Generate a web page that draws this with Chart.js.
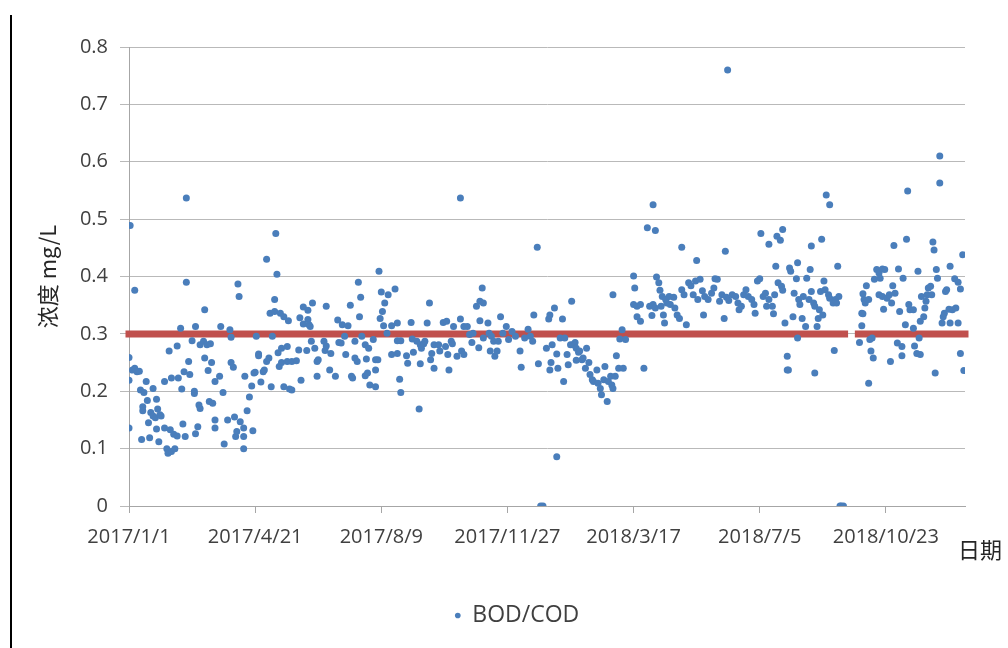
<!DOCTYPE html>
<html>
<head>
<meta charset="utf-8">
<script src="https://cdn.jsdelivr.net/npm/chart.js@4.4.1/dist/chart.umd.min.js"></script>
<style>
  body { margin: 0; background: #fff; }
  #wrap { width: 1008px; height: 648px; position: relative; }
</style>
</head>
<body>
<div id="wrap"><canvas id="myChart"></canvas></div>
<script>
// Eje X: días desde 2017/1/1
const startDate = '2017/1/1';
const endDate = '2018/12/31';
const xTickLabels = ['2017/1/1', '2017/4/21', '2017/8/9', '2017/11/27', '2018/3/17', '2018/7/5', '2018/10/23'];
const yTickValues = [0, 0.1, 0.2, 0.3, 0.4, 0.5, 0.6, 0.7, 0.8];

// BOD/COD: [día, valor]
const bodCod = [
  [0, 0.259], [0, 0.219], [0, 0.136], [1, 0.489], [3, 0.237], [5, 0.24], [5, 0.376], [7, 0.234], [9, 0.235],
  [10, 0.202], [11, 0.116], [12, 0.173], [12, 0.166], [13, 0.198], [15, 0.217], [16, 0.184], [17, 0.145],
  [18, 0.119], [19, 0.163], [21, 0.157], [21, 0.205], [23, 0.154], [24, 0.186], [24, 0.134], [25, 0.169],
  [26, 0.112], [27, 0.159], [28, 0.157], [31, 0.136], [31, 0.217], [33, 0.1], [34, 0.092], [35, 0.27],
  [36, 0.133], [37, 0.095], [37, 0.223], [39, 0.125], [40, 0.1], [42, 0.122], [42, 0.279], [43, 0.223],
  [45, 0.31], [46, 0.204], [47, 0.143], [48, 0.234], [49, 0.121], [50, 0.537], [50, 0.39], [52, 0.252],
  [53, 0.229], [55, 0.288], [57, 0.2], [57, 0.196], [58, 0.126], [58, 0.313], [60, 0.138], [61, 0.176],
  [62, 0.17], [62, 0.281], [65, 0.287], [66, 0.342], [66, 0.258], [68, 0.281], [69, 0.236], [70, 0.182],
  [71, 0.283], [72, 0.25], [73, 0.179], [75, 0.15], [75, 0.136], [75, 0.217], [79, 0.226], [80, 0.313],
  [82, 0.198], [83, 0.108],
  [86, 0.15], [88, 0.307], [89, 0.294], [89, 0.25], [91, 0.242], [92, 0.155], [93, 0.121], [94, 0.13],
  [95, 0.387], [96, 0.365], [97, 0.147], [100, 0.136], [100, 0.1], [100, 0.121], [101, 0.226], [103, 0.166],
  [105, 0.19], [107, 0.209], [108, 0.131], [109, 0.232], [110, 0.233], [111, 0.296], [113, 0.265], [113, 0.262],
  [115, 0.216], [117, 0.234], [118, 0.237], [120, 0.252], [120, 0.43], [122, 0.258], [123, 0.336], [124, 0.208],
  [125, 0.296], [127, 0.36], [127, 0.339], [128, 0.475], [129, 0.404], [130, 0.267], [131, 0.243], [132, 0.336],
  [133, 0.275], [133, 0.25], [135, 0.33], [135, 0.208], [138, 0.278], [138, 0.252], [139, 0.323], [140, 0.204],
  [142, 0.252], [142, 0.202], [146, 0.253], [148, 0.272], [149, 0.328], [150, 0.219], [152, 0.347], [152, 0.317],
  [155, 0.271], [156, 0.341], [156, 0.325], [157, 0.316], [158, 0.313], [159, 0.287], [160, 0.354], [162, 0.275],
  [164, 0.252], [164, 0.226], [165, 0.255], [170, 0.287], [171, 0.271], [172, 0.279], [172, 0.348], [175, 0.237],
  [176, 0.266], [180, 0.226], [182, 0.324], [183, 0.285], [185, 0.284], [186, 0.316], [188, 0.296], [189, 0.264],
  [191, 0.314], [193, 0.35], [194, 0.226], [195, 0.223], [197, 0.287], [197, 0.258], [199, 0.252], [200, 0.39],
  [201, 0.33], [202, 0.364], [203, 0.296], [206, 0.281], [206, 0.227], [207, 0.256], [208, 0.232], [209, 0.275],
  [210, 0.211], [213, 0.29], [215, 0.208], [215, 0.237], [215, 0.255], [217, 0.255], [218, 0.409], [219, 0.327],
  [220, 0.373], [221, 0.339], [222, 0.314], [223, 0.354], [225, 0.301], [226, 0.368], [229, 0.314], [229, 0.264],
  [232, 0.378], [234, 0.319], [234, 0.288], [234, 0.266], [236, 0.221], [237, 0.288], [237, 0.198], [242, 0.262],
  [243, 0.249], [246, 0.32], [247, 0.291], [248, 0.268], [251, 0.287], [253, 0.169], [254, 0.281], [254, 0.248],
  [255, 0.275], [257, 0.283], [258, 0.287], [260, 0.319], [262, 0.354], [263, 0.255], [264, 0.266], [266, 0.24],
  [266, 0.281],
  [270, 0.281], [271, 0.27], [274, 0.32], [276, 0.278], [277, 0.322], [278, 0.264], [279, 0.237], [281, 0.287],
  [282, 0.283], [283, 0.313], [286, 0.261], [289, 0.537], [289, 0.326], [290, 0.27], [292, 0.313], [292, 0.264],
  [295, 0.313], [297, 0.299], [299, 0.285], [300, 0.301], [303, 0.348], [305, 0.276], [306, 0.357], [306, 0.323],
  [308, 0.38], [309, 0.354], [309, 0.293], [313, 0.319], [314, 0.301], [315, 0.27], [316, 0.296], [318, 0.287],
  [319, 0.261], [321, 0.27], [322, 0.287], [324, 0.33], [326, 0.301], [329, 0.313], [331, 0.29], [334, 0.304],
  [337, 0.296], [341, 0.27], [342, 0.242], [345, 0.293], [348, 0.308], [350, 0.296], [352, 0.287], [353, 0.333],
  [356, 0.451], [357, 0.248],
  [359, 0], [361, 0], [364, 0.275], [366, 0.326], [367, 0.333], [367, 0.237], [368, 0.25], [369, 0.281],
  [371, 0.345], [373, 0.265], [373, 0.086], [374, 0.24], [376, 0.293], [378, 0.326], [379, 0.217], [380, 0.293],
  [382, 0.264], [383, 0.246], [385, 0.281], [386, 0.357], [387, 0.281], [389, 0.285], [390, 0.275], [390, 0.254],
  [392, 0.268], [393, 0.27], [395, 0.255], [396, 0.258], [398, 0.24], [399, 0.275], [401, 0.25], [402, 0.229],
  [404, 0.22], [405, 0.217], [408, 0.237], [409, 0.214], [411, 0.205], [412, 0.194], [414, 0.22], [415, 0.243],
  [417, 0.182], [418, 0.217], [420, 0.226], [421, 0.211], [422, 0.205], [422, 0.368], [424, 0.226], [425, 0.262],
  [427, 0.24], [428, 0.291], [430, 0.307], [431, 0.24], [433, 0.29], [440, 0.401], [440, 0.351], [441, 0.38],
  [443, 0.348], [443, 0.33], [446, 0.351], [446, 0.322], [449, 0.24], [452, 0.485],
  [454, 0.348], [456, 0.332], [457, 0.525], [457, 0.351], [459, 0.48], [459, 0.345], [460, 0.399], [462, 0.389],
  [463, 0.376], [464, 0.348], [465, 0.365], [466, 0.333], [467, 0.319], [468, 0.36], [469, 0.354], [471, 0.365],
  [472, 0.351], [475, 0.364], [476, 0.345], [478, 0.333], [480, 0.327], [482, 0.377], [482, 0.451], [484, 0.368],
  [486, 0.316], [488, 0.389], [490, 0.384], [492, 0.368], [494, 0.392], [495, 0.428], [496, 0.36], [498, 0.395],
  [500, 0.375], [501, 0.333], [502, 0.365], [505, 0.36], [508, 0.371], [510, 0.38], [511, 0.396], [513, 0.395],
  [515, 0.357], [517, 0.368], [519, 0.327], [520, 0.444], [521, 0.364], [522, 0.76], [523, 0.358], [526, 0.368],
  [529, 0.365], [531, 0.354], [532, 0.342], [534, 0.348], [536, 0.368], [538, 0.377],
  [540, 0.365], [543, 0.36], [545, 0.351], [546, 0.336], [548, 0.392], [550, 0.396], [551, 0.475], [553, 0.365],
  [555, 0.371], [556, 0.348], [558, 0.36], [558, 0.456], [561, 0.348], [562, 0.335], [563, 0.368], [564, 0.418],
  [565, 0.47], [566, 0.389], [568, 0.463], [569, 0.383], [570, 0.482], [570, 0.376], [572, 0.319], [574, 0.261],
  [574, 0.237], [575, 0.237], [576, 0.415], [577, 0.409], [579, 0.33], [580, 0.371], [582, 0.396], [583, 0.424],
  [583, 0.293], [584, 0.36], [585, 0.351], [587, 0.327], [588, 0.365], [590, 0.313], [591, 0.397], [593, 0.36],
  [594, 0.412], [595, 0.453], [595, 0.374], [597, 0.354], [598, 0.232], [598, 0.348], [600, 0.313], [601, 0.327],
  [602, 0.342], [603, 0.374], [604, 0.465], [605, 0.333], [606, 0.392], [607, 0.377], [608, 0.542], [610, 0.368],
  [611, 0.525], [611, 0.362], [614, 0.354], [615, 0.271], [616, 0.36], [617, 0.354], [618, 0.418], [619, 0.365],
  [620, 0], [621, 0], [623, 0],
  [637, 0.285], [639, 0.336], [639, 0.314], [640, 0.335], [640, 0.37], [641, 0.36], [642, 0.354], [643, 0.384],
  [645, 0.36], [645, 0.214], [646, 0.29], [647, 0.27], [648, 0.293], [649, 0.258], [650, 0.395], [652, 0.412],
  [654, 0.406], [654, 0.368], [655, 0.397], [657, 0.413], [657, 0.365], [658, 0.343], [659, 0.412], [661, 0.362],
  [663, 0.368], [664, 0.252], [665, 0.354], [666, 0.384], [667, 0.454], [668, 0.371], [670, 0.284], [671, 0.413],
  [672, 0.339], [674, 0.278], [674, 0.262], [675, 0.397], [677, 0.316], [678, 0.465], [679, 0.549], [680, 0.351],
  [681, 0.342], [684, 0.342], [684, 0.31], [685, 0.279], [687, 0.266], [688, 0.409], [689, 0.293], [690, 0.264],
  [690, 0.322], [691, 0.365], [693, 0.33], [694, 0.345], [695, 0.357], [696, 0.368], [697, 0.38], [699, 0.383],
  [700, 0.368], [701, 0.46], [702, 0.446], [703, 0.232], [704, 0.412], [705, 0.397], [707, 0.61], [707, 0.563],
  [709, 0.319], [710, 0.33], [711, 0.336], [712, 0.374], [713, 0.377], [715, 0.343], [716, 0.418], [716, 0.319],
  [718, 0.342], [720, 0.396], [721, 0.345], [723, 0.39], [723, 0.319], [725, 0.378], [725, 0.266], [727, 0.438],
  [728, 0.236]
];

// línea de referencia 0.3 (con un hueco en septiembre 2018)
const limitValue = 0.3;
const limitSegments = [[0, 624], [636, 729]];

function dayOf(str) {
  const p = str.split('/').map(Number);
  const s = startDate.split('/').map(Number);
  return Math.round((Date.UTC(p[0], p[1] - 1, p[2]) - Date.UTC(s[0], s[1] - 1, s[2])) / 86400000);
}

const xTickDays = xTickLabels.map(dayOf);
const textColor = '#404040';
const gridColor = '#b9b9b9';

const datasets = [
  {
    label: 'BOD/COD',
    data: bodCod.map((p) => ({ x: p[0], y: p[1] })),
    backgroundColor: '#4a7ebb',
    borderWidth: 0,
    pointRadius: 3.5,
    pointHoverRadius: 3.5,
  },
];
limitSegments.forEach((seg) => {
  datasets.push({
    label: 'limit',
    data: seg.map((d) => ({ x: d, y: limitValue })),
    showLine: true,
    borderColor: '#c0504d',
    borderWidth: 7,
    borderCapStyle: 'square',
    pointRadius: 0,
    pointHoverRadius: 0,
    clip: false,
  });
});

// texto "日期" y la línea negra de la izquierda
const extras = {
  id: 'extras',
  afterDraw(chart) {
    const c = chart.ctx;
    c.save();
    c.fillStyle = '#000';
    c.fillRect(10, 15, 2, 640);
    c.fillStyle = '#262626';
    c.font = '22px "Noto Sans CJK SC"';
    c.textAlign = 'left';
    c.textBaseline = 'middle';
    c.fillText('日期', 958, 550);
    c.restore();
  },
};

const ctx = document.getElementById('myChart').getContext('2d');
const myChart = new Chart(ctx, {
  type: 'scatter',
  data: { datasets: datasets },
  plugins: [extras],
  options: {
    responsive: true,
    maintainAspectRatio: false,
    animation: false,
    events: [],
    layout: { padding: { left: 26, right: 0, top: 47, bottom: 11 } },
    scales: {
      x: {
        type: 'linear',
        min: 0,
        max: dayOf(endDate),
        afterBuildTicks: (axis) => {
          axis.ticks = xTickDays.map((v) => ({ value: v }));
        },
        afterFit: (scale) => {
          scale.height = 88;
        },
        ticks: {
          autoSkip: false,
          maxRotation: 0,
          padding: 12,
          color: textColor,
          font: { family: '"Open Sans"', size: 20 },
          callback: (value) => xTickLabels[xTickDays.indexOf(value)],
        },
        grid: { drawOnChartArea: false, drawTicks: true, tickLength: 7, color: '#a6a6a6' },
        border: { color: '#a6a6a6' },
      },
      y: {
        min: 0,
        max: 0.8,
        afterBuildTicks: (axis) => {
          axis.ticks = yTickValues.map((v) => ({ value: v }));
        },
        afterFit: (scale) => {
          scale.width = 103;
        },
        ticks: {
          padding: 12,
          color: textColor,
          font: { family: '"Open Sans"', size: 20 },
          callback: (value) => String(+value.toFixed(1)),
        },
        grid: { color: gridColor, tickLength: 9 },
        border: { color: '#a6a6a6' },
        title: {
          display: true,
          text: '浓度 mg/L',
          color: '#262626',
          font: { family: '"Noto Sans CJK SC"', size: 22 },
          padding: { top: 8, bottom: 0 },
        },
      },
      yRight: {
        position: 'right',
        display: true,
        ticks: { display: false },
        grid: { display: false },
        border: { display: false },
        afterFit: (scale) => {
          scale.width = 43;
        },
      },
    },
    plugins: {
      tooltip: { enabled: false },
      legend: {
        position: 'bottom',
        labels: {
          filter: (item) => item.text !== 'limit',
          usePointStyle: true,
          pointStyle: 'circle',
          boxWidth: 6,
          boxHeight: 4,
          color: textColor,
          font: { family: '"Open Sans"', size: 23 },
        },
      },
    },
  },
});
</script>
</body>
</html>
